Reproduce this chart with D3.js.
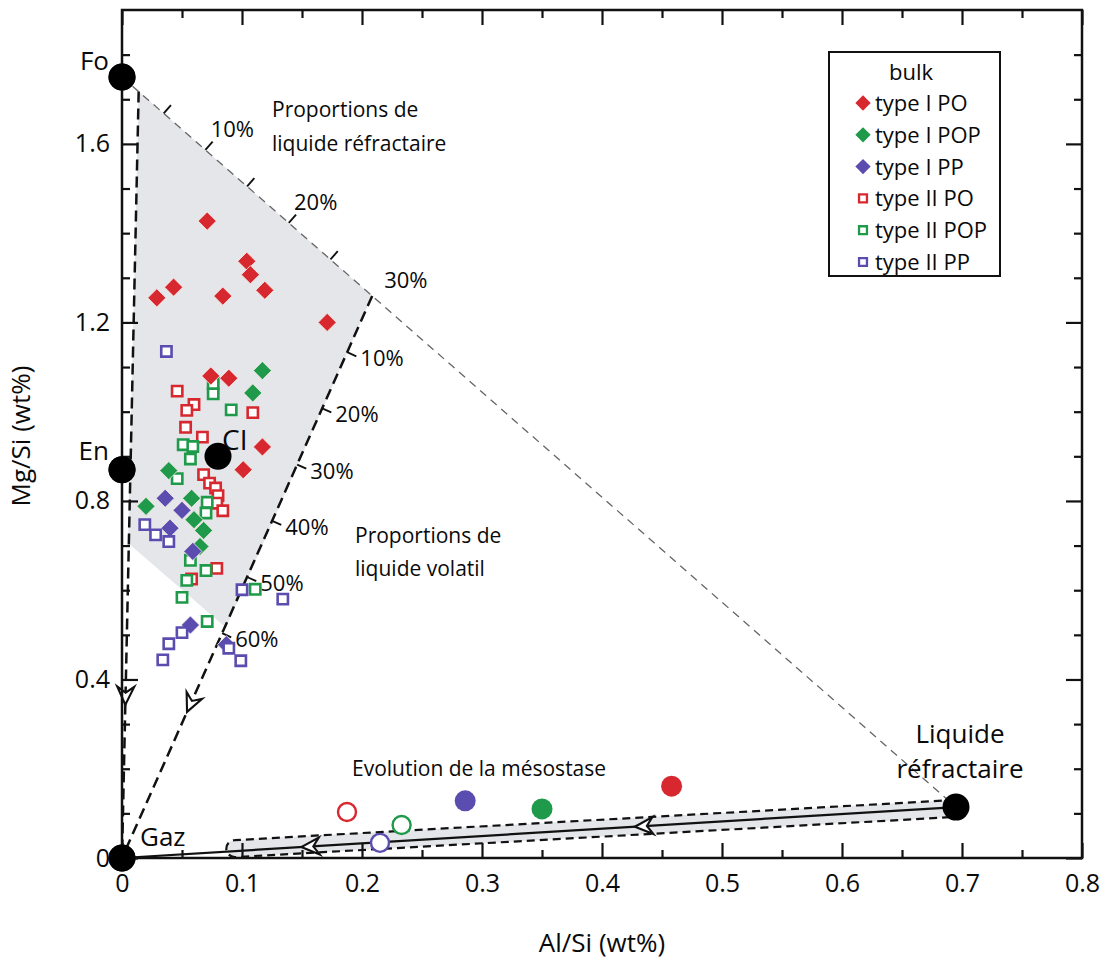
<!DOCTYPE html>
<html>
<head>
<meta charset="utf-8">
<script src="https://d3js.org/d3.v7.min.js"></script>
<style>
  body { margin: 0; background: #fff; }
  text { font-family: "Open Sans", "Noto Sans", sans-serif; fill: #0a0a0a; }
</style>
</head>
<body>
<svg width="1105" height="960"></svg>
<script>

// bulk chondrule compositions [Al/Si, Mg/Si]
var typeIPO = [[0.071,1.427],[0.104,1.337],[0.107,1.307],[0.043,1.279],[0.029,1.255],[0.084,1.259],
  [0.119,1.272],[0.171,1.200],[0.074,1.080],[0.089,1.075],[0.117,0.921],[0.101,0.870]];
var typeIPOP = [[0.117,1.092],[0.109,1.042],[0.039,0.868],[0.020,0.788],[0.058,0.806],[0.060,0.758],
  [0.068,0.734],[0.065,0.698]];
var typeIPP = [[0.036,0.806],[0.050,0.779],[0.040,0.739],[0.059,0.687],[0.057,0.522],[0.087,0.478]];
var typeIIPO = [[0.046,1.046],[0.060,1.016],[0.054,1.003],[0.109,0.998],[0.053,0.965],[0.067,0.943],
  [0.068,0.859],[0.073,0.840],[0.078,0.829],[0.080,0.812],[0.079,0.795],[0.084,0.778],[0.079,0.649],[0.058,0.625]];
var typeIIPOP = [[0.076,1.063],[0.076,1.040],[0.091,1.004],[0.051,0.926],[0.059,0.922],[0.057,0.894],
  [0.046,0.850],[0.071,0.797],[0.070,0.773],[0.057,0.667],[0.070,0.644],[0.054,0.622],[0.050,0.584],
  [0.111,0.602],[0.071,0.530]];
var typeIIPP = [[0.037,1.135],[0.019,0.747],[0.028,0.724],[0.039,0.709],[0.100,0.601],[0.134,0.580],
  [0.050,0.505],[0.039,0.480],[0.089,0.470],[0.034,0.444],[0.099,0.442]];

// mesostasis compositions
var mesoOpen = [[0.1875,0.103,"#d7282f"],[0.233,0.074,"#1e9a4a"],[0.215,0.034,"#5b4db0"]];
var mesoFilled = [[0.286,0.128,"#5b4db0"],[0.350,0.110,"#1e9a4a"],[0.458,0.161,"#d7282f"]];

// end members
var endMembers = [
  {name:"Fo", x:0, y:1.75},
  {name:"En", x:0, y:0.87},
  {name:"CI", x:0.08, y:0.90},
  {name:"Gaz", x:0, y:0},
  {name:"Liq", x:0.695, y:0.114}
];

var xTicks = [0,0.1,0.2,0.3,0.4,0.5,0.6,0.7,0.8];
var yTicks = [0,0.4,0.8,1.2,1.6];
var refrLabels = ["10%","20%","30%"];
var volLabels = ["10%","20%","30%","40%","50%","60%"];

var red = "#d7282f", green = "#1e9a4a", purple = "#5b4db0";

var svg = d3.select("svg");
var x = d3.scaleLinear().domain([0,0.8]).range([122,1082]);
var y = d3.scaleLinear().domain([0,1.9]).range([858,10]);

var Fo = endMembers[0], Gaz = endMembers[3], Liq = endMembers[4];
function lerp(a, b, t) { return {x: a.x + (b.x - a.x) * t, y: a.y + (b.y - a.y) * t}; }
var P30 = lerp(Fo, Liq, 0.3);
var top0 = lerp(Fo, Liq, 0.02);

// grey field of the chondrules
var shade = [[top0.x, top0.y],[P30.x, P30.y],[0.0867,0.516],[0.005,0.706]];
svg.append("path")
  .attr("d", d3.line().x(d => x(d[0])).y(d => y(d[1]))(shade) + "Z")
  .attr("fill", "#e4e6ea");

// mesostasis band
var bTL = [x(0.094), y(0.040)], bTR = [x(0.694), y(0.130)];
var bBL = [x(0.094), y(0.002)], bBR = [x(0.694), y(0.092)];
var r = (bBL[1] - bTL[1]) / 2;
svg.append("path")
  .attr("d", "M" + bTR + "L" + bTL + "A" + r + "," + r + " 0 0 0 " + bBL + "L" + bBR + "Z")
  .attr("fill", "#e4e6ea");
svg.append("path")
  .attr("d", "M" + bTR + "L" + bTL + "A" + r + "," + r + " 0 0 0 " + bBL + "L" + bBR)
  .attr("fill", "none").attr("stroke", "#111").attr("stroke-width", 2.2)
  .attr("stroke-dasharray", "8,5");

// thin grey dashed line Fo -> liquide
svg.append("line")
  .attr("x1", x(Fo.x)).attr("y1", y(Fo.y)).attr("x2", x(Liq.x)).attr("y2", y(Liq.y))
  .attr("stroke", "#666").attr("stroke-width", 1.3).attr("stroke-dasharray", "8,6");

// thick dashed lines
svg.append("line")
  .attr("x1", x(top0.x)).attr("y1", y(top0.y)).attr("x2", x(Gaz.x)).attr("y2", y(Gaz.y))
  .attr("stroke", "#111").attr("stroke-width", 2.5).attr("stroke-dasharray", "11,6");
svg.append("line")
  .attr("x1", x(P30.x)).attr("y1", y(P30.y)).attr("x2", x(Gaz.x)).attr("y2", y(Gaz.y))
  .attr("stroke", "#111").attr("stroke-width", 2.5).attr("stroke-dasharray", "11,6");
// solid line liquide -> gaz
svg.append("line")
  .attr("x1", x(Liq.x)).attr("y1", y(Liq.y)).attr("x2", x(Gaz.x)).attr("y2", y(Gaz.y))
  .attr("stroke", "#111").attr("stroke-width", 2.2);

// open arrow heads
function arrowHead(from, to, t) {
  var p = lerp(from, to, t);
  var px = x(p.x), py = y(p.y);
  var ang = Math.atan2(y(to.y) - y(from.y), x(to.x) - x(from.x)) * 180 / Math.PI;
  svg.append("path")
    .attr("d", "M0,0 L-18,-8.5 L-12,0 L-18,8.5 Z")
    .attr("transform", "translate(" + px + "," + py + ") rotate(" + ang + ")")
    .attr("fill", "#fff").attr("stroke", "#111").attr("stroke-width", 2.1).attr("stroke-linejoin", "miter");
}
arrowHead(top0, Gaz, 0.80);
arrowHead(P30, Gaz, 0.74);
arrowHead(Liq, Gaz, 0.385);
arrowHead(Liq, Gaz, 0.785);

// percentage ticks along the two mixing lines
function pctTicks(from, to, fracs, labels, every, len, side, off) {
  var dx = x(to.x) - x(from.x), dy = y(to.y) - y(from.y);
  var L = Math.sqrt(dx * dx + dy * dy);
  var nx = -dy / L * side, ny = dx / L * side;
  fracs.forEach(function(t, i) {
    var p = lerp(from, to, t);
    var px = x(p.x), py = y(p.y);
    svg.append("line")
      .attr("x1", px).attr("y1", py).attr("x2", px + nx * len).attr("y2", py + ny * len)
      .attr("stroke", "#111").attr("stroke-width", 1.9);
    if ((i + 1) % every === 0) {
      svg.append("text")
        .attr("x", px + nx * len + off[0]).attr("y", py + ny * len + off[1])
        .attr("font-size", 22).text(labels[(i + 1) / every - 1]);
    }
  });
}
pctTicks(Fo, Liq, [0.05,0.10,0.15,0.20,0.25], refrLabels, 2, 11, -1, [-2, -5]);
pctTicks(P30, Gaz, [0.1,0.2,0.3,0.4,0.5,0.6], volLabels, 1, 10, -1, [4, 10]);
svg.append("text").attr("x", x(P30.x) + 12).attr("y", y(P30.y) - 8)
  .attr("font-size", 22).text(refrLabels[2]);

// bulk chondrules
var diamond = d3.symbol().type(d3.symbolDiamond2).size(210);
var square = d3.symbol().type(d3.symbolSquare2).size(135);
function diamonds(data, color) {
  svg.append("g").selectAll("path").data(data).join("path")
    .attr("d", diamond)
    .attr("transform", d => "translate(" + x(d[0]) + "," + y(d[1]) + ")")
    .attr("fill", color).attr("stroke", "#fbeee6").attr("stroke-width", 0.8);
}
function squares(data, color) {
  svg.append("g").selectAll("path").data(data).join("path")
    .attr("d", square)
    .attr("transform", d => "translate(" + x(d[0]) + "," + y(d[1]) + ")")
    .attr("fill", "#fff").attr("stroke", color).attr("stroke-width", 2.6);
}
squares(typeIIPO, red);
squares(typeIIPOP, green);
diamonds(typeIPO, red);
diamonds(typeIPOP, green);
diamonds(typeIPP, purple);
squares(typeIIPP, purple);

// mesostasis
svg.append("g").selectAll("circle").data(mesoOpen).join("circle")
  .attr("cx", d => x(d[0])).attr("cy", d => y(d[1])).attr("r", 9)
  .attr("fill", "#fff").attr("stroke", d => d[2]).attr("stroke-width", 2.4);
svg.append("g").selectAll("circle").data(mesoFilled).join("circle")
  .attr("cx", d => x(d[0])).attr("cy", d => y(d[1])).attr("r", 10.5)
  .attr("fill", d => d[2]);

// end-member circles
svg.append("g").selectAll("circle").data(endMembers).join("circle")
  .attr("cx", d => x(d.x)).attr("cy", d => y(d.y)).attr("r", 13.5)
  .attr("fill", "#000");

// annotations
function label(t, px, py, size, anchor) {
  svg.append("text").attr("x", px).attr("y", py).attr("font-size", size)
    .attr("text-anchor", anchor || "start").text(t);
}
label("Fo", 109, 70, 26, "end");
label("En", 109, 460, 26, "end");
label("CI", 222, 450, 28);
label("Gaz", 140, 846, 26);
label("Liquide", 960, 743, 26, "middle");
label("réfractaire", 960, 778, 26, "middle");
label("Proportions de", 272, 117, 21);
label("liquide réfractaire", 272, 151, 21);
label("Proportions de", 355, 543, 21);
label("liquide volatil", 355, 576, 21);
label("Evolution de la mésostase", 352, 776, 21);

// axes: frame + inward ticks, minor and major
var minorX = d3.range(0.05, 0.8, 0.1);
var minorY = d3.range(0.1, 1.9, 0.1).filter(v => Math.abs(v / 0.4 - Math.round(v / 0.4)) > 1e-6);

function styleAxis(g) {
  g.select(".domain").remove();
  g.selectAll("line").attr("stroke", "#111").attr("stroke-width", 2.2);
  g.selectAll("text").attr("font-size", 25).attr("fill", "#0a0a0a")
    .style("font-family", '"Open Sans", "Noto Sans", sans-serif');
}
var fmt = d => d === 0 ? "0" : d3.format(".1f")(d);

svg.append("g").attr("transform", "translate(0,858)")
  .call(d3.axisBottom(x).tickValues(xTicks).tickSize(-15).tickPadding(16).tickFormat(fmt)).call(styleAxis);
svg.append("g").attr("transform", "translate(0,858)")
  .call(d3.axisBottom(x).tickValues(minorX).tickSize(-8).tickFormat("")).call(styleAxis);
svg.append("g").attr("transform", "translate(0,10)")
  .call(d3.axisTop(x).tickValues(xTicks).tickSize(-15).tickFormat("")).call(styleAxis);
svg.append("g").attr("transform", "translate(0,10)")
  .call(d3.axisTop(x).tickValues(minorX).tickSize(-8).tickFormat("")).call(styleAxis);

svg.append("g").attr("transform", "translate(122,0)")
  .call(d3.axisLeft(y).tickValues(yTicks).tickSize(-16).tickPadding(12).tickFormat(fmt)).call(styleAxis);
svg.append("g").attr("transform", "translate(122,0)")
  .call(d3.axisLeft(y).tickValues(minorY).tickSize(-8).tickFormat("")).call(styleAxis);
svg.append("g").attr("transform", "translate(1082,0)")
  .call(d3.axisRight(y).tickValues(yTicks).tickSize(-16).tickFormat("")).call(styleAxis);
svg.append("g").attr("transform", "translate(1082,0)")
  .call(d3.axisRight(y).tickValues(minorY).tickSize(-8).tickFormat("")).call(styleAxis);

svg.append("rect").attr("x", 122).attr("y", 10).attr("width", 960).attr("height", 848)
  .attr("fill", "none").attr("stroke", "#111").attr("stroke-width", 2.5);

// redraw axis-side circles over the frame
svg.append("g").selectAll("circle").data([Fo, endMembers[1], Gaz]).join("circle")
  .attr("cx", d => x(d.x)).attr("cy", d => y(d.y)).attr("r", 13.5).attr("fill", "#000");

// axis titles
svg.append("text").attr("x", 602).attr("y", 952).attr("text-anchor", "middle")
  .attr("font-size", 26).text("Al/Si (wt%)");
svg.append("text").attr("transform", "translate(30,436) rotate(-90)").attr("text-anchor", "middle")
  .attr("font-size", 26).text("Mg/Si (wt%)");

// legend
var legendItems = [
  {name:"type I PO", color:red, shape:"d"},
  {name:"type I POP", color:green, shape:"d"},
  {name:"type I PP", color:purple, shape:"d"},
  {name:"type II PO", color:red, shape:"s"},
  {name:"type II POP", color:green, shape:"s"},
  {name:"type II PP", color:purple, shape:"s"}
];
var lg = svg.append("g").attr("transform", "translate(829,52)");
lg.append("rect").attr("width", 171).attr("height", 224)
  .attr("fill", "#fff").attr("stroke", "#111").attr("stroke-width", 2);
lg.append("text").attr("x", 82).attr("y", 28).attr("text-anchor", "middle")
  .attr("font-size", 22).text("bulk");
var cells = lg.selectAll(".cell").data(legendItems).join("g")
  .attr("class", "cell")
  .attr("transform", (d, i) => "translate(0," + (51 + i * 31.8) + ")");
cells.append("path")
  .attr("d", d => d.shape === "d" ? d3.symbol().type(d3.symbolDiamond2).size(150)() : d3.symbol().type(d3.symbolSquare2).size(80)())
  .attr("transform", "translate(34,0)")
  .attr("fill", d => d.shape === "d" ? d.color : "#fff")
  .attr("stroke", d => d.color).attr("stroke-width", d => d.shape === "d" ? 0 : 2.3);
cells.append("text").attr("x", 46).attr("y", 8).attr("font-size", 22).text(d => d.name);

</script>
</body>
</html>
